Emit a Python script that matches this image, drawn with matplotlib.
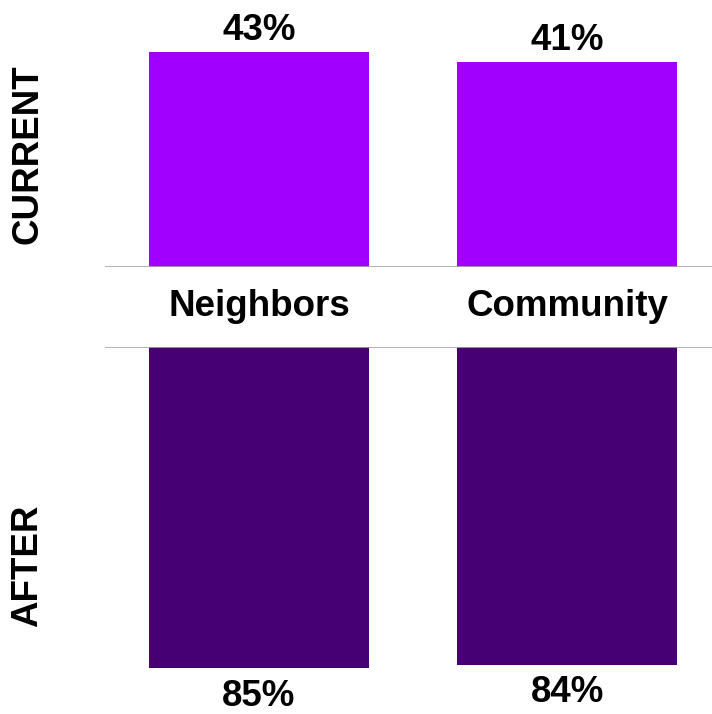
import numpy as np
import matplotlib.pyplot as plt

plt.rcParams["font.family"] = ["Liberation Sans", "DejaVu Sans"]
plt.rcParams["font.weight"] = "bold"

categories = ["Neighbors", "Community"]
current = [43, 41]
after = [85, 84]

purple_light = "#a100ff"
purple_dark = "#460073"
rule_grey = "#a6a6a6"

W, H = 712, 714
fig = plt.figure(figsize=(W / 100, H / 100), dpi=100)

# axes boxes in pixels: left, bottom(from top), width
left_px = 105
ax_top = fig.add_axes([left_px / W, 1 - 267 / H, (W - left_px) / W, 267 / H])
ax_bot = fig.add_axes([left_px / W, 0, (W - left_px) / W, (H - 347) / H])

x = np.arange(len(categories))
bar_w = 220 / 308

ax_top.bar(x, current, width=bar_w, color=purple_light)
ax_bot.bar(x, after, width=bar_w, color=purple_dark)

ax_top.set_xlim(-0.5, 1.47)
ax_bot.set_xlim(-0.5, 1.47)
ax_top.set_ylim(0, 267 / 5.0)
ax_bot.set_ylim((H - 347) / 3.78, 0)

for ax in (ax_top, ax_bot):
    ax.set_xticks([])
    ax.set_yticks([])
    for s in ax.spines.values():
        s.set_visible(False)

ax_top.axhline(0, color=rule_grey, lw=1.2, zorder=3)
ax_bot.axhline(0, color=rule_grey, lw=1.2, zorder=3)

fs = 26.5
for i, v in enumerate(current):
    ax_top.annotate(f"{v}%", (x[i], v), xytext=(0, 8.5), textcoords="offset points",
                    ha="center", va="baseline", fontsize=fs, fontweight="bold")
for i, v in enumerate(after):
    ax_bot.annotate(f"{v}%", (x[i], v), xytext=(0, -27), textcoords="offset points",
                    ha="center", va="baseline", fontsize=fs, fontweight="bold")

for i, c in enumerate(categories):
    ax_top.annotate(c, (x[i], 0), xytext=(0, -35), textcoords="offset points",
                    ha="center", va="baseline", fontsize=fs, fontweight="bold",
                    annotation_clip=False)

fig.text(28 / W, 1 - 154 / H, "CURRENT", rotation=90, ha="center", va="center",
         fontsize=fs, fontweight="bold")
fig.text(28 / W, 1 - 566 / H, "AFTER", rotation=90, ha="center", va="center",
         fontsize=fs, fontweight="bold")

fig.savefig("out.png", dpi=100)
